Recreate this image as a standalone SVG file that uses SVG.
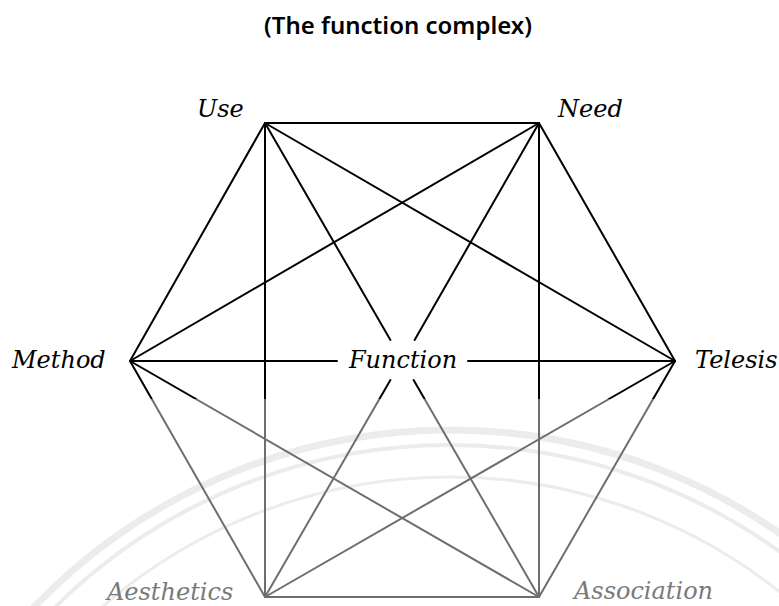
<svg xmlns="http://www.w3.org/2000/svg" width="779" height="606" viewBox="0 0 779 606">
<defs>
<linearGradient id="ink" gradientUnits="userSpaceOnUse" x1="0" y1="0" x2="0" y2="606">
<stop offset="0.658" stop-color="#000"/>
<stop offset="0.658" stop-color="#6e6e6e"/>
</linearGradient>
</defs>
<style>
.lbl{font-family:"DejaVu Serif","Liberation Serif",serif;font-style:italic;font-size:24px;fill:#000}
.dim{fill:#7a7a7a}
.title{font-family:"Noto Sans","Open Sans","Liberation Sans",sans-serif;font-weight:600;font-size:24px;fill:#000}
.wm{fill:none;stroke:#ececec}
#connectors line{stroke:url(#ink);stroke-width:2;stroke-linecap:round}
</style>
<rect width="779" height="606" fill="#fff"/>
<g id="watermark">
<circle class="wm" cx="450" cy="1007" r="577" stroke-width="7"/>
<circle class="wm" cx="450" cy="1007" r="562" stroke-width="4"/>
<circle class="wm" cx="450" cy="1007" r="530" stroke-width="3"/>
</g>
<text class="title" x="398" y="34" text-anchor="middle">(The function complex)</text>
<g id="connectors">
<line x1="265" y1="123" x2="539" y2="123"/>
<line x1="265" y1="123" x2="130" y2="361"/>
<line x1="265" y1="123" x2="265" y2="597"/>
<line x1="265" y1="123" x2="675" y2="361"/>
<line x1="265" y1="123" x2="390.4" y2="340"/>
<line x1="413.6" y1="380" x2="539" y2="597"/>
<line x1="539" y1="123" x2="130" y2="361"/>
<line x1="539" y1="123" x2="675" y2="361"/>
<line x1="539" y1="123" x2="539" y2="597"/>
<line x1="539" y1="123" x2="414.6" y2="340"/>
<line x1="390.4" y1="380" x2="265" y2="597"/>
<line x1="130" y1="361" x2="337" y2="361"/>
<line x1="468" y1="361" x2="675" y2="361"/>
<line x1="130" y1="361" x2="265" y2="597"/>
<line x1="130" y1="361" x2="539" y2="597"/>
<line x1="675" y1="361" x2="265" y2="597"/>
<line x1="675" y1="361" x2="539" y2="597"/>
<line x1="265" y1="597" x2="539" y2="597"/>
</g>
<g id="use"><text class="lbl" x="197" y="117">Use</text></g>
<g id="need"><text class="lbl" x="558" y="117">Need</text></g>
<g id="method"><text class="lbl" x="12" y="368">Method</text></g>
<g id="telesis"><text class="lbl" x="695" y="368">Telesis</text></g>
<g id="function"><text class="lbl" x="403" y="368" text-anchor="middle">Function</text></g>
<g id="aesthetics"><text class="lbl dim" x="107" y="600">Aesthetics</text></g>
<g id="association"><text class="lbl dim" x="574" y="599">Association</text></g>
</svg>
